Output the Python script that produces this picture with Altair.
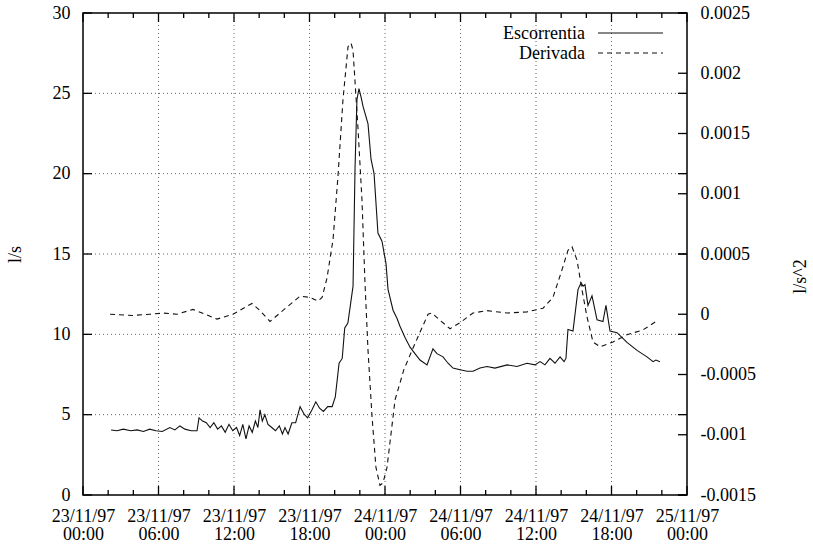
import altair as alt
import pandas as pd

# ---------------- data ----------------
# hours after 23/11/97 00:00
esc_hours = [2.23, 2.70, 3.20, 3.80, 4.30, 4.80, 5.30, 5.80, 6.30, 6.90, 7.30, 7.70, 8.10, 8.60,
             9.06, 9.22, 9.50, 9.80, 10.10, 10.40, 10.70, 11.00, 11.30, 11.60, 11.90, 12.20, 12.45,
             12.70, 12.95, 13.20, 13.45, 13.70, 13.90, 14.07, 14.25, 14.45, 14.70, 15.00, 15.30,
             15.60, 15.85, 16.05, 16.30, 16.60, 16.90, 17.25, 17.60, 17.85, 18.20, 18.50, 18.80,
             19.10, 19.45, 19.80, 20.05, 20.35, 20.60, 20.80, 21.05, 21.30, 21.46, 21.62, 21.77,
             21.93, 22.09, 22.25, 22.65, 22.89, 23.13, 23.44, 23.76, 24.08, 24.24, 24.64, 24.95,
             25.19, 25.59, 25.99, 26.38, 26.78, 27.34, 27.81, 28.13, 28.61, 29.01, 29.40, 29.96,
             30.52, 30.99, 31.55, 32.11, 32.74, 33.70, 34.49, 35.28, 35.92, 36.32, 36.71, 37.11,
             37.51, 37.91, 38.23, 38.38, 38.54, 38.94, 39.34, 39.58, 39.74, 39.89, 40.13, 40.45,
             40.85, 41.32, 41.56, 41.88, 42.44, 43.23, 44.03, 44.82, 45.30, 45.53, 45.85]
esc_values = [4.05, 4.0, 4.1, 4.0, 4.05, 3.95, 4.1, 4.0, 3.95, 4.2, 4.05, 4.3, 4.1, 4.0,
              4.0, 4.8, 4.6, 4.5, 4.2, 4.5, 4.1, 4.3, 3.9, 4.4, 4.0, 4.2, 3.7,
              4.4, 3.5, 4.3, 3.9, 4.6, 4.2, 5.3, 4.6, 5.0, 4.4, 4.2, 4.0,
              4.3, 3.8, 4.2, 3.8, 4.5, 4.5, 5.5, 5.0, 4.8, 5.3, 5.8, 5.4,
              5.2, 5.5, 5.5, 6.1, 8.2, 8.5, 10.4, 10.7, 12.1, 13.0, 20.4, 24.6,
              25.3, 24.8, 24.2, 23.1, 20.9, 20.0, 16.3, 15.8, 14.4, 12.8, 11.5, 11.0,
              10.5, 9.8, 9.2, 8.8, 8.4, 8.1, 9.1, 8.8, 8.6, 8.2, 7.9, 7.8,
              7.7, 7.7, 7.9, 8.0, 7.9, 8.1, 8.0, 8.2, 8.1, 8.3, 8.1, 8.5,
              8.2, 8.6, 8.3, 8.5, 10.3, 10.2, 12.8, 13.2, 13.0, 13.1, 11.8, 12.4,
              10.9, 10.8, 11.8, 10.2, 10.1, 9.5, 9.0, 8.6, 8.3, 8.4, 8.3]

der_hours = [2.15, 3.97, 5.32, 6.36, 7.47, 8.74, 9.70, 10.65, 11.92, 13.43, 14.07, 14.86, 16.21,
             17.25, 18.04, 18.68, 19.00, 19.39, 19.87, 20.26, 20.66, 21.06, 21.30, 21.46, 21.85,
             22.17, 22.41, 22.65, 22.97, 23.28, 23.60, 23.84, 24.16, 24.80, 25.50, 26.23, 26.78,
             27.42, 27.73, 28.37, 29.17, 29.96, 30.99, 32.11, 33.70, 35.28, 36.56, 37.35, 38.07,
             38.54, 38.86, 39.26, 39.66, 40.05, 40.53, 41.09, 42.12, 43.23, 44.50, 45.69]
der_values = [0.0, -0.00001, 0.0, 0.00001, 0.0, 0.00004, 0.0, -0.00004, 0.0, 0.00009, 0.00003,
              -0.00006, 0.00006, 0.00015, 0.00014, 0.00011, 0.00014, 0.0003, 0.00062, 0.00114,
              0.00178, 0.00222, 0.00225, 0.00219, 0.00155, 0.00095, 0.00026, -0.0003, -0.00085,
              -0.00127, -0.00142, -0.0014, -0.00127, -0.00071, -0.00046, -0.00028, -0.00015, 0.0,
              0.00001, -0.00005, -0.00012, -0.00007, 0.00001, 0.00003, 0.00001, 0.00002, 0.00005,
              0.00014, 0.00037, 0.00053, 0.00056, 0.00045, 0.0002, -0.00002, -0.00023, -0.00027,
              -0.00023, -0.00017, -0.00013, -0.00005]

series_names = ["Escorrentia", "Derivada"]
left_ticks = [0, 5, 10, 15, 20, 25, 30]
right_ticks = [-0.0015, -0.001, -0.0005, 0, 0.0005, 0.001, 0.0015, 0.002, 0.0025]
x_major_hours = [0, 6, 12, 18, 24, 30, 36, 42, 48]
x_minor_hours = [2, 4, 8, 10, 14, 16, 20, 22, 26, 28, 32, 34, 38, 40, 44, 46]

# ---------------- helpers ----------------
BASE = pd.Timestamp("1997-11-23 00:00:00")


def iso(h):
    return (BASE + pd.Timedelta(hours=h)).strftime("%Y-%m-%dT%H:%M:%SZ")


W, H = 604, 482
FONT = "Liberation Serif"
FS = 18

df_esc = pd.DataFrame({"t": [iso(h) for h in esc_hours], "v": esc_values})
df_der = pd.DataFrame({"t": [iso(h) for h in der_hours], "v": der_values})
df_xmaj = pd.DataFrame({"t": [iso(h) for h in x_major_hours]})
df_xgrid = pd.DataFrame({"t": [iso(h) for h in x_major_hours[1:-1]]})
df_xmin = pd.DataFrame({"t": [iso(h) for h in x_minor_hours]})
df_lt = pd.DataFrame({"v": left_ticks})
df_lgrid = pd.DataFrame({"v": left_ticks[1:-1]})
df_rt = pd.DataFrame({"v": right_ticks})

t0 = int(pd.Timestamp(iso(0)).value // 10**6)
t1 = int(pd.Timestamp(iso(48)).value // 10**6)
x_scale = alt.Scale(type="utc", domain=[t0, t1], nice=False)
x_axis = alt.Axis(
    values=[int(pd.Timestamp(iso(h)).value // 10**6) for h in x_major_hours],
    labelExpr="[utcFormat(datum.value, '%d/%m/%y'), utcFormat(datum.value, '%H:%M')]",
    labelPadding=12, labelLineHeight=18.5, labelFlush=False, labelOverlap=False,
    labelBaseline="top", labelAlign="center",
)
X = alt.X("t:T", scale=x_scale, axis=x_axis, title=None)

yl_scale = alt.Scale(domain=[0, 30], nice=False, zero=False)
yl_axis = alt.Axis(values=left_ticks, labelPadding=13, title="l/s", titleX=-68, titleY=241,
                   titleAngle=270, titleAlign="center", titleBaseline="middle",
                   titleFont=FONT, titleFontSize=FS, titleFontWeight="normal", titleColor="black")
YL = alt.Y("v:Q", scale=yl_scale, axis=yl_axis)

yr_scale = alt.Scale(domain=[-0.0015, 0.0025], nice=False, zero=False)
yr_axis = alt.Axis(orient="right", values=right_ticks, labelExpr="'' + datum.value",
                   labelPadding=13, title="l/s^2", titleX=113, titleY=263,
                   titleAngle=270, titleAlign="center", titleBaseline="middle",
                   titleFont=FONT, titleFontSize=FS, titleFontWeight="normal", titleColor="black")
YR = alt.Y("v:Q", scale=yr_scale, axis=yr_axis)

GRID = dict(color="#666666", strokeDash=[1, 3], strokeWidth=1)
TICK = dict(color="black", strokeWidth=1.3)

# vertical grid and x ticks
grid_v = alt.Chart(df_xgrid).mark_rule(**GRID).encode(x=X, y=alt.value(0), y2=alt.value(H))
xt_bot = alt.Chart(df_xmaj).mark_rule(**TICK).encode(x=X, y=alt.value(H - 9), y2=alt.value(H))
xt_top = alt.Chart(df_xmaj).mark_rule(**TICK).encode(x=X, y=alt.value(0), y2=alt.value(9))
xm_bot = alt.Chart(df_xmin).mark_rule(**TICK).encode(x=X, y=alt.value(H - 5), y2=alt.value(H))
xm_top = alt.Chart(df_xmin).mark_rule(**TICK).encode(x=X, y=alt.value(0), y2=alt.value(5))

# left-scale layers
grid_h = alt.Chart(df_lgrid).mark_rule(**GRID).encode(y=YL, x=alt.value(0), x2=alt.value(W))
lt_left = alt.Chart(df_lt).mark_rule(**TICK).encode(y=YL, x=alt.value(0), x2=alt.value(9))
lt_right = alt.Chart(df_lt).mark_rule(**TICK).encode(y=YL, x=alt.value(W - 9), x2=alt.value(W))
esc_line = alt.Chart(df_esc).mark_line(color="#111111", strokeWidth=1.1).encode(x=X, y=YL)

# legend (manual, label left of sample as in the reference)
df_leg1 = pd.DataFrame({"name": [series_names[0]]})
df_leg2 = pd.DataFrame({"name": [series_names[1]]})
leg_t1 = alt.Chart(df_leg1).mark_text(align="right", baseline="middle", font=FONT, fontSize=FS,
                                      color="black").encode(text="name:N", x=alt.value(502), y=alt.value(21))
leg_t2 = alt.Chart(df_leg2).mark_text(align="right", baseline="middle", font=FONT, fontSize=FS,
                                      color="black").encode(text="name:N", x=alt.value(502), y=alt.value(41))
leg_l1 = alt.Chart(df_leg1).mark_rule(color="#111111", strokeWidth=1.1).encode(
    x=alt.value(515), x2=alt.value(580), y=alt.value(20))
leg_l2 = alt.Chart(df_leg2).mark_rule(color="#111111", strokeWidth=1.1, strokeDash=[5, 4]).encode(
    x=alt.value(515), x2=alt.value(580), y=alt.value(40))

left_layer = alt.layer(grid_v, grid_h, xt_bot, xt_top, xm_bot, xm_top, lt_left, lt_right,
                       esc_line, leg_t1, leg_t2, leg_l1, leg_l2)

# right-scale layers
rt = alt.Chart(df_rt).mark_rule(**TICK).encode(y=YR, x=alt.value(W - 9), x2=alt.value(W))
der_line = alt.Chart(df_der).mark_line(color="#111111", strokeWidth=1.1, strokeDash=[5, 4]).encode(x=X, y=YR)
right_layer = alt.layer(rt, der_line)

chart = (
    alt.layer(left_layer, right_layer)
    .resolve_scale(y="independent")
    .properties(width=W, height=H, autosize=alt.AutoSizeParams(type="none"),
                padding={"left": 83, "top": 13, "right": 813 - 83 - W, "bottom": 546 - 13 - H},
                background="white")
    .configure_view(stroke="black", strokeWidth=1.5)
    .configure_axis(domain=False, ticks=False, tickSize=0, grid=False, labelFont=FONT,
                    labelFontSize=FS, labelColor="black", labelBound=False)
)

chart.save("out.html", embed_options={"renderer": "svg", "actions": False})
